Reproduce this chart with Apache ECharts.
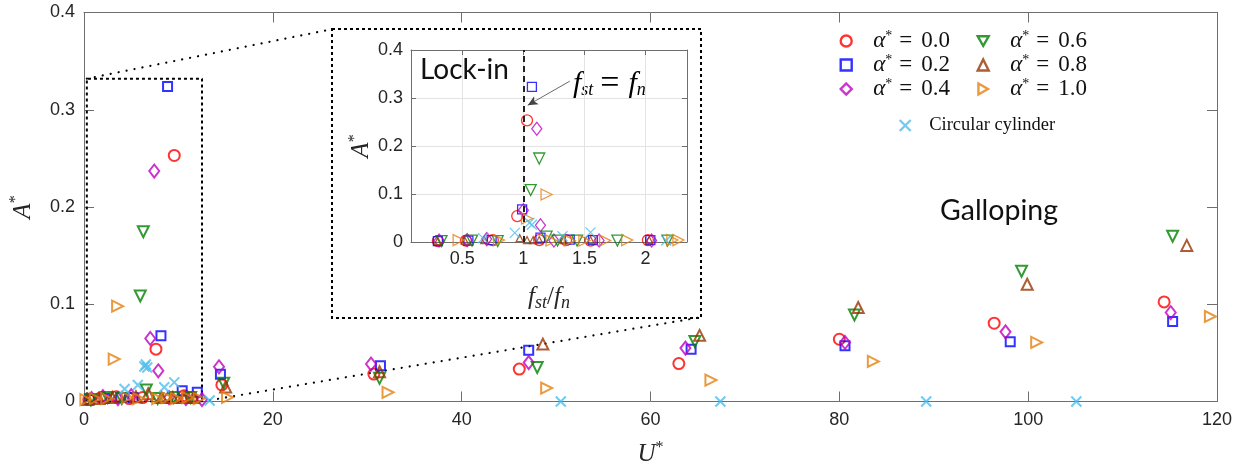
<!DOCTYPE html>
<html>
<head>
<meta charset="utf-8">
<script src="https://cdn.jsdelivr.net/npm/echarts@6/dist/echarts.min.js"></script>
<style>
  html, body { margin: 0; padding: 0; background: #fff; }
  #chart { width: 1252px; height: 472px; }
</style>
</head>
<body>
<div id="chart"></div>
<script>
// ---------- tick labels ----------
const uTicks = [0, 20, 40, 60, 80, 100, 120];
const aTicks = [0, 0.1, 0.2, 0.3, 0.4];
const freqTicks = [0.5, 1, 1.5, 2];
const freqRange = [0.08, 2.34];

// ---------- amplitude A* versus reduced velocity U* ----------
const a00Main = [[0.5,0.002],[1.8,0.004],[3.4,0.005],[4.8,0.003],[6.2,0.004],[7.62,0.0538],[9.56,0.253],[10.6,0.006],[11.4,0.004],[14.6,0.017],[30.7,0.0282],[46.1,0.0333],[63.0,0.039],[80.0,0.064],[96.4,0.0805],[114.4,0.1024]];
const a02Main = [[0.6,0.002],[2.2,0.003],[3.9,0.004],[5.2,0.004],[8.15,0.0675],[8.85,0.324],[10.4,0.011],[12.0,0.0094],[14.45,0.0279],[31.4,0.0368],[47.1,0.0528],[64.3,0.0538],[80.6,0.0573],[98.1,0.0614],[115.3,0.0822]];
const a04Main = [[0.8,0.003],[2.0,0.005],[3.6,0.003],[5.0,0.006],[7.02,0.0648],[7.44,0.237],[7.87,0.0316],[9.0,0.004],[10.8,0.003],[12.5,0.002],[14.3,0.0357],[30.4,0.0385],[47.1,0.040],[63.7,0.0549],[80.6,0.0607],[97.6,0.0716],[115.1,0.0915]];
const a06Main = [[0.7,0.002],[2.5,0.004],[4.0,0.003],[5.96,0.1085],[6.28,0.1745],[6.6,0.0118],[7.8,0.003],[9.5,0.004],[11.3,0.004],[14.8,0.0187],[31.3,0.0238],[48.0,0.035],[64.7,0.0617],[81.6,0.089],[99.3,0.134],[115.3,0.170]];
const a08Main = [[0.4,0.002],[1.6,0.003],[3.0,0.004],[5.5,0.005],[6.8,0.008],[8.2,0.004],[9.4,0.004],[10.5,0.004],[11.6,0.004],[15.0,0.0149],[31.3,0.0306],[48.6,0.059],[65.2,0.068],[82.0,0.0966],[99.9,0.1205],[116.8,0.1605]];
const a10Main = [[0.2,0.002],[1.2,0.003],[2.4,0.003],[3.2,0.0436],[3.56,0.098],[4.6,0.004],[5.8,0.003],[7.8,0.003],[8.8,0.004],[9.8,0.003],[11.0,0.004],[12.2,0.003],[15.2,0.0043],[32.2,0.0094],[49.0,0.0138],[66.4,0.022],[83.6,0.0412],[100.9,0.0607],[119.3,0.0874]];
const circMain = [[4.3,0.0128],[5.7,0.017],[6.4,0.036],[6.55,0.038],[6.7,0.035],[8.5,0.0146],[9.56,0.0197],[13.3,0.001],[50.5,0],[67.4,0],[89.2,0],[105.1,0]];

// ---------- amplitude A* versus frequency ratio f_st/f_n ----------
const a00Inset = [[0.30,0.002],[0.53,0.003],[0.75,0.004],[0.95,0.054],[1.03,0.2535],[1.13,0.004],[1.35,0.004],[1.55,0.003],[2.02,0.004]];
const a02Inset = [[0.30,0.002],[0.55,0.003],[0.74,0.004],[0.99,0.068],[1.07,0.323],[1.14,0.009],[1.38,0.005],[1.57,0.004],[2.04,0.004]];
const a04Inset = [[0.31,0.003],[0.54,0.004],[0.70,0.006],[1.0,0.066],[1.11,0.236],[1.14,0.035],[1.25,0.003],[1.62,0.003],[2.05,0.003]];
const a06Inset = [[0.33,0.002],[0.58,0.003],[0.79,0.002],[1.06,0.108],[1.13,0.174],[1.19,0.011],[1.28,0.003],[1.44,0.003],[1.77,0.003],[2.18,0.003]];
const a08Inset = [[0.30,0.002],[0.52,0.003],[0.68,0.004],[0.97,0.008],[1.03,0.004],[1.08,0.004],[1.13,0.004],[1.33,0.004],[1.55,0.004],[2.03,0.004]];
const a10Inset = [[0.47,0.004],[0.80,0.004],[1.03,0.049],[1.19,0.099],[1.23,0.003],[1.38,0.003],[1.50,0.003],[1.67,0.003],[1.85,0.004],[2.22,0.004],[2.27,0.004]];
const circInset = [[0.67,0.008],[0.93,0.019],[1.05,0.040],[1.07,0.036],[1.32,0.012],[1.55,0.020],[2.17,0.003]];

const alphaLabels = ['0.0', '0.2', '0.4', '0.6', '0.8', '1.0'];
const circLabel = 'Circular cylinder';

// ---------- marker styles ----------
const DOWN = 'path://M0,0L10,0L5,8.66Z';
const RIGHT = 'path://M0,0L8.66,5L0,10Z';
const CROSS = 'path://M0,0L10,10M10,0L0,10';

const groups = [
  { name: alphaLabels[0], color: '#ff0000', symbol: 'circle',   size: 11,      main: a00Main, inset: a00Inset },
  { name: alphaLabels[1], color: '#0000ff', symbol: 'rect',     size: 9,       main: a02Main, inset: a02Inset },
  { name: alphaLabels[2], color: '#bf00bf', symbol: 'diamond',  size: [10,13], main: a04Main, inset: a04Inset },
  { name: alphaLabels[3], color: '#008000', symbol: DOWN,       size: 11,      main: a06Main, inset: a06Inset },
  { name: alphaLabels[4], color: '#993300', symbol: 'triangle', size: 11,      main: a08Main, inset: a08Inset, insetSize: 7 },
  { name: alphaLabels[5], color: '#e5800f', symbol: RIGHT,      size: 11,      main: a10Main, inset: a10Inset },
  { name: circLabel,      color: '#4dbeee', symbol: CROSS,      size: 10,      main: circMain, inset: circInset }
];

const AXIS_GRAY = '#6e6e6e';
const TEXT = '#262626';
const SANS = 'Liberation Sans';
const SERIF = 'Liberation Serif';

const mathRich = {
  i:   { fontFamily: SERIF, fontStyle: 'italic', fontSize: 25, lineHeight: 30, color: TEXT },
  sup: { fontFamily: SERIF, fontSize: 16, verticalAlign: 'top', color: TEXT },
  sub: { fontFamily: SERIF, fontStyle: 'italic', fontSize: 18, verticalAlign: 'bottom', color: TEXT },
  t:   { fontFamily: SERIF, fontSize: 25, lineHeight: 30, color: TEXT },
  eq:  { fontFamily: SERIF, fontSize: 34, lineHeight: 30, padding: [0, 9, 0, 7], color: TEXT },
  big: { fontFamily: SERIF, fontStyle: 'italic', fontSize: 30, lineHeight: 30, color: TEXT }
};

const series = [];
groups.forEach(g => {
  series.push({
    name: g.name, type: 'scatter', xAxisIndex: 0, yAxisIndex: 0,
    symbol: g.symbol, symbolSize: g.size, data: g.main, z: 4,
    itemStyle: { color: 'rgba(0,0,0,0)', borderColor: g.color, borderWidth: 2 },
    emphasis: { disabled: true }
  });
  series.push({
    name: g.name, type: 'scatter', xAxisIndex: 2, yAxisIndex: 2,
    symbol: g.symbol, symbolSize: g.insetSize || g.size, data: g.inset, z: 4,
    itemStyle: { color: 'rgba(0,0,0,0)', borderColor: g.color, borderWidth: 1.3 },
    emphasis: { disabled: true }
  });
});

// zoom window around the lock-in cluster and the leader lines to the inset (main-axis units)
series.push({
  type: 'line', xAxisIndex: 0, yAxisIndex: 0, silent: true, symbol: 'none', z: 3,
  data: [[0.3, 0], [0.3, 0.332], [12.5, 0.332], [12.5, 0], [0.3, 0]],
  lineStyle: { color: '#000', width: 2, type: [3, 3] }
});
series.push({
  type: 'line', xAxisIndex: 0, yAxisIndex: 0, silent: true, symbol: 'none', z: 3,
  data: [[0.3, 0.332], [26.35, 0.383]],
  lineStyle: { color: '#000', width: 2.2, type: [0.1, 8], cap: 'round' }
});
series.push({
  type: 'line', xAxisIndex: 0, yAxisIndex: 0, silent: true, symbol: 'none', z: 3,
  data: [[12.5, 0], [65.4, 0.0867]],
  lineStyle: { color: '#000', width: 2.2, type: [0.1, 8], cap: 'round' }
});

// f_st = f_n reference line and its arrow inside the inset
series.push({
  type: 'scatter', xAxisIndex: 2, yAxisIndex: 2, data: [], silent: true,
  markLine: {
    silent: true, animation: false,
    label: { show: false },
    data: [
      [{ coord: [1, 0], symbol: 'none' }, { coord: [1, 0.4], symbol: 'none', lineStyle: { color: '#222', width: 2, type: [6, 4] } }],
      [{ coord: [1.38, 0.335], symbol: 'none' }, { coord: [1.036, 0.285], symbol: 'arrow', symbolSize: [7, 10], lineStyle: { color: '#444', width: 0.8, type: 'solid' } }]
    ]
  }
});

function mainAxis(pos, grid, range, step, labels, name, nameGap) {
  return {
    type: 'value', gridIndex: grid, position: pos,
    min: range[0], max: range[range.length - 1], interval: step,
    axisLine: { show: true, onZero: false, lineStyle: { color: AXIS_GRAY, width: 1 } },
    axisTick: { show: true, inside: true, length: 10, lineStyle: { color: AXIS_GRAY } },
    axisLabel: { show: labels, fontFamily: SANS, fontSize: 18, color: TEXT, margin: pos === 'left' ? 9 : 10 },
    splitLine: { show: false },
    name: name || '', nameLocation: 'middle', nameGap: nameGap || 0,
    nameTextStyle: { rich: mathRich }
  };
}

function insetX(pos, labels) {
  return {
    type: 'value', gridIndex: 1, position: pos,
    min: freqRange[0], max: freqRange[1],
    axisLine: { show: true, onZero: false, lineStyle: { color: AXIS_GRAY, width: 1 } },
    axisTick: { show: true, inside: true, length: 5, customValues: freqTicks, lineStyle: { color: AXIS_GRAY } },
    axisLabel: { show: labels, customValues: freqTicks, fontFamily: SANS, fontSize: 18, color: TEXT, margin: 8 },
    splitLine: { show: labels, lineStyle: { color: '#e3e3e3', width: 1 } },
    name: labels ? '{i|f}{sub|st}{t|/}{i|f}{sub|n}' : '', nameLocation: 'middle', nameGap: 40,
    nameTextStyle: { rich: mathRich }
  };
}

function insetY(pos, labels) {
  return {
    type: 'value', gridIndex: 1, position: pos,
    min: aTicks[0], max: aTicks[aTicks.length - 1], interval: aTicks[1] - aTicks[0],
    axisLine: { show: true, onZero: false, lineStyle: { color: AXIS_GRAY, width: 1 } },
    axisTick: { show: true, inside: true, length: 5, lineStyle: { color: AXIS_GRAY } },
    axisLabel: { show: labels, fontFamily: SANS, fontSize: 18, color: TEXT, margin: 8 },
    splitLine: { show: labels, lineStyle: { color: '#e3e3e3', width: 1 } },
    name: labels ? '{i|A}{sup|*}' : '', nameLocation: 'middle', nameGap: 32,
    nameTextStyle: { rich: mathRich }
  };
}

const LEG = '#111';
const legendRich = {
  sp: { width: 16.5 },
  sc: { width: 13.5 },
  g:  { fontFamily: SERIF, fontStyle: 'italic', fontSize: 23, lineHeight: 24, color: LEG },
  p:  { fontFamily: SERIF, fontSize: 14, verticalAlign: 'top', color: LEG },
  eq: { fontFamily: SERIF, fontSize: 23, lineHeight: 24, padding: [0, 9, 0, 7], color: LEG },
  t:  { fontFamily: SERIF, fontSize: 23, lineHeight: 24, color: LEG },
  c:  { fontFamily: SERIF, fontSize: 18.5, lineHeight: 24, color: LEG }
};

function legendBlock(names, left, top, formatter) {
  return {
    orient: 'vertical', left: left, top: top, padding: 0,
    itemWidth: 11, itemHeight: 11, itemGap: 0.5, selectedMode: false,
    itemStyle: { borderWidth: 2.4 },
    data: names, formatter: formatter,
    textStyle: { color: LEG, rich: legendRich }
  };
}

const option = {
  animation: false,
  backgroundColor: '#fff',
  grid: [
    { left: 83, top: 12.5, right: 35, bottom: 69.5 },
    { left: 411, top: 50, width: 276, height: 192 }
  ],
  xAxis: [
    mainAxis('bottom', 0, uTicks, uTicks[1] - uTicks[0], true, '{i|U}{sup|*}', 38),
    mainAxis('top', 0, uTicks, uTicks[1] - uTicks[0], false),
    insetX('bottom', true),
    insetX('top', false)
  ],
  yAxis: [
    mainAxis('left', 0, aTicks, aTicks[1] - aTicks[0], true, '{i|A}{sup|*}', 46),
    mainAxis('right', 0, aTicks, aTicks[1] - aTicks[0], false),
    insetY('left', true),
    insetY('right', false)
  ],
  legend: [
    legendBlock(alphaLabels.slice(0, 3), 839.5, 29, n => '{sp| }{g|α}{p|*}{eq|=}{t|' + n + '}'),
    legendBlock(alphaLabels.slice(3, 6), 976.5, 29, n => '{sp| }{g|α}{p|*}{eq|=}{t|' + n + '}'),
    legendBlock([circLabel], 898.5, 116, n => '{sc| }{c|' + n + '}')
  ],
  graphic: [
    {
      type: 'rect', z: -1, silent: true,
      shape: { x: 332, y: 29, width: 369, height: 289 },
      style: { fill: '#fff', stroke: '#000', lineWidth: 2, lineDash: [3, 3] }
    },
    {
      type: 'text', left: 940, top: 196, silent: true,
      style: { text: 'Galloping', fontFamily: 'Lato', fontSize: 28.5, fill: '#111' }
    },
    {
      type: 'text', left: 420, top: 56, silent: true,
      style: { text: 'Lock-in', fontFamily: 'Lato', fontSize: 28, fill: '#111' }
    },
    {
      type: 'text', left: 573, top: 67, silent: true,
      style: {
        text: '{big|f}{sub|st}{eq|=}{big|f}{sub|n}',
        rich: mathRich
      }
    }
  ],
  series: series
};

const chart = echarts.init(document.getElementById('chart'), null, { renderer: 'canvas' });
chart.setOption(option);
</script>
</body>
</html>
